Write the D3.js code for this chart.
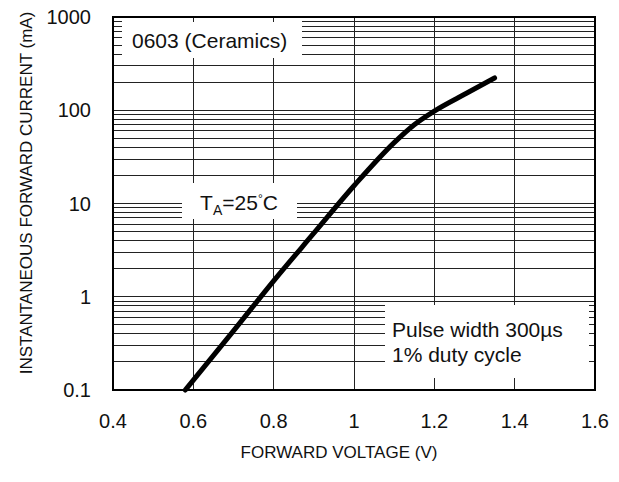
<!DOCTYPE html>
<html>
  <head>
    <meta charset="utf-8">
    <title>Forward Voltage vs Forward Current</title>
    <script src="https://d3js.org/d3.v7.min.js"></script>
  </head>
  <style>
    body { margin: 0; background: #fff; }
    svg { font-family: "Liberation Sans", Arial, sans-serif; }
    .grid { stroke: #222; stroke-width: 1; shape-rendering: crispEdges; }
    .frame { fill: none; stroke: #000; stroke-width: 2; }
    .curve { fill: none; stroke: #000; stroke-width: 5; stroke-linecap: round; stroke-linejoin: round; }
    .tick { font-size: 20px; fill: #111; }
    .title { font-size: 17px; fill: #111; }
    .note { font-size: 21px; fill: #111; }
  </style>
  <body>
    <script type="text/javascript">
        // forward voltage (V) vs instantaneous forward current (mA)
        const voltage = [0.58, 0.7, 0.8, 0.9, 1.0, 1.1, 1.15, 1.2, 1.28, 1.35];
        const current = [0.1, 0.43, 1.48, 4.8, 15.5, 45, 70, 98, 152, 222];

        const xTicks = [0.4, 0.6, 0.8, 1.0, 1.2, 1.4, 1.6];
        const xTickLabels = ['0.4', '0.6', '0.8', '1', '1.2', '1.4', '1.6'];
        const yTicks = [0.1, 1, 10, 100, 1000];
        const yTickLabels = ['0.1', '1', '10', '100', '1000'];

        const width = 619;
        const height = 482;
        const pLeft = 113, pRight = 595, pTop = 17, pBottom = 390;

        const svg = d3.select('body').append('svg').attr('width', width).attr('height', height);
        const x = d3.scaleLinear().domain([0.4, 1.6]).range([pLeft, pRight]);
        const y = d3.scaleLog().domain([0.1, 1000]).range([pBottom, pTop]);

        // minor log values 2..9 per decade
        const minor = [];
        for (let d = 0.1; d < 1000; d *= 10) {
          for (let k = 2; k <= 9; k++) minor.push(+(d * k).toPrecision(3));
        }

        const gGrid = svg.append('g');
        gGrid.selectAll('line.h').data(minor.concat(yTicks)).enter().append('line')
          .attr('class', 'grid')
          .attr('x1', pLeft).attr('x2', pRight)
          .attr('y1', d => y(d)).attr('y2', d => y(d));
        gGrid.selectAll('line.v').data(xTicks).enter().append('line')
          .attr('class', 'grid')
          .attr('x1', d => x(d)).attr('x2', d => x(d))
          .attr('y1', pTop).attr('y2', pBottom);

        // white label boxes cover the grid
        const gNotes = svg.append('g');
        gNotes.append('rect').attr('x', 122).attr('y', pTop).attr('width', 180).attr('height', 41).attr('fill', '#fff');
        gNotes.append('rect').attr('x', 182).attr('y', 183).attr('width', 115).attr('height', 36).attr('fill', '#fff');
        gNotes.append('rect').attr('x', 385).attr('y', 305).attr('width', pRight - 385).attr('height', pBottom - 305).attr('fill', '#fff');

        // short ticks inside the frame, drawn over the boxes
        const gTicks = svg.append('g');
        gTicks.selectAll('line.ml').data(minor).enter().append('line').attr('class', 'grid')
          .attr('x1', pLeft).attr('x2', pLeft + 6).attr('y1', d => y(d)).attr('y2', d => y(d));
        gTicks.selectAll('line.mr').data(minor).enter().append('line').attr('class', 'grid')
          .attr('x1', pRight - 6).attr('x2', pRight).attr('y1', d => y(d)).attr('y2', d => y(d));
        gTicks.selectAll('line.xb').data(xTicks).enter().append('line').attr('class', 'grid')
          .attr('x1', d => x(d)).attr('x2', d => x(d)).attr('y1', pBottom - 12).attr('y2', pBottom);
        gTicks.selectAll('line.xt').data(xTicks).enter().append('line').attr('class', 'grid')
          .attr('x1', d => x(d)).attr('x2', d => x(d)).attr('y1', pTop).attr('y2', pTop + 5);

        svg.append('rect').attr('class', 'frame')
          .attr('x', pLeft).attr('y', pTop).attr('width', pRight - pLeft).attr('height', pBottom - pTop);

        const pts = voltage.map((v, i) => [x(v), y(current[i])]);
        svg.append('path').attr('class', 'curve')
          .attr('d', d3.line().curve(d3.curveMonotoneX)(pts));

        // tick labels
        svg.selectAll('text.xl').data(xTicks).enter().append('text').attr('class', 'tick')
          .attr('x', d => x(d)).attr('y', 428).attr('text-anchor', 'middle')
          .text((d, i) => xTickLabels[i]);
        svg.selectAll('text.yl').data(yTicks).enter().append('text').attr('class', 'tick')
          .attr('x', 91).attr('y', d => y(d)).attr('dy', '0.35em').attr('text-anchor', 'end')
          .text((d, i) => yTickLabels[i]);

        // axis titles
        svg.append('text').attr('class', 'title')
          .attr('x', 339).attr('y', 458).attr('text-anchor', 'middle')
          .text('FORWARD VOLTAGE (V)');
        svg.append('text').attr('class', 'title')
          .attr('transform', 'translate(32,193) rotate(-90)').attr('text-anchor', 'middle')
          .text('INSTANTANEOUS FORWARD CURRENT (mA)');

        // notes
        gNotes.append('text').attr('class', 'note').attr('x', 132).attr('y', 48).text('0603 (Ceramics)');
        const ta = gNotes.append('text').attr('class', 'note').attr('x', 239).attr('y', 210).attr('text-anchor', 'middle');
        ta.append('tspan').text('T');
        ta.append('tspan').attr('font-size', '14px').attr('dy', 5).text('A');
        ta.append('tspan').attr('dy', -5).text('=25');
        ta.append('tspan').attr('font-size', '12px').attr('dy', -7).text('°');
        ta.append('tspan').attr('dy', 7).text('C');
        gNotes.append('text').attr('class', 'note').attr('x', 392).attr('y', 337).text('Pulse width 300µs');
        gNotes.append('text').attr('class', 'note').attr('x', 392).attr('y', 362).text('1% duty cycle');
    </script>
  </body>
</html>
